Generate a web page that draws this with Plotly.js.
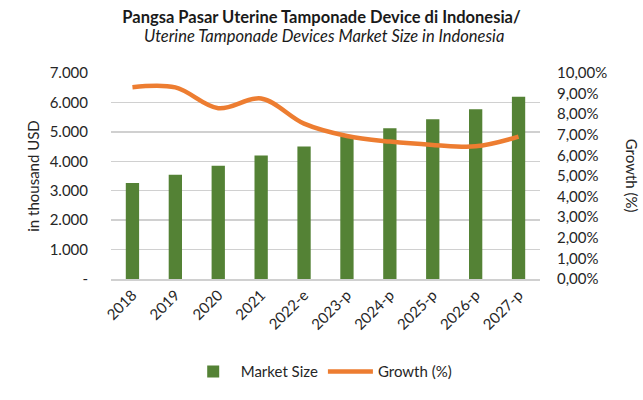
<!DOCTYPE html>
<html><head><meta charset="utf-8">
<script src="https://cdn.plot.ly/plotly-3.0.1.min.js"></script>
<style>html,body{margin:0;padding:0;background:#fff}#chart{width:643px;height:400px}</style>
</head><body><div id="chart"></div>
<script>
const years = ["2018","2019","2020","2021","2022-e","2023-p","2024-p","2025-p","2026-p","2027-p"];
const marketSize = [3260, 3540, 3850, 4200, 4500, 4840, 5120, 5430, 5770, 6190];
const growth = [9.31, 9.30, 8.29, 8.76, 7.54, 6.94, 6.67, 6.51, 6.44, 6.91];
const leftTickVals = [0,1000,2000,3000,4000,5000,6000,7000];
const leftTickText = ["-","1.000","2.000","3.000","4.000","5.000","6.000","7.000"];
const rightTickVals = [0,1,2,3,4,5,6,7,8,9,10];
const rightTickText = ["0,00%","1,00%","2,00%","3,00%","4,00%","5,00%","6,00%","7,00%","8,00%","9,00%","10,00%"];
const titleLine1 = "Pangsa Pasar Uterine Tamponade Device di Indonesia/";
const titleLine2 = "Uterine Tamponade Devices Market Size in Indonesia";

const fontFam = "Lato, 'Open Sans', sans-serif";
const data = [
  {type:"bar", x:years, y:marketSize, name:"Market Size", marker:{color:"#548235"}, width:0.31},
  {type:"scatter", mode:"lines", x:years, y:growth, name:"Growth (%)", yaxis:"y2",
   line:{color:"#ED7D31", width:4.5, shape:"spline", smoothing:1}}
];
const layout = {
  width:643, height:400,
  margin:{l:111, r:103, t:73, b:113},
  paper_bgcolor:"#fff", plot_bgcolor:"#fff",
  font:{family:fontFam, size:15, color:"#262626"},
  title:{text:"<b>" + titleLine1 + "</b>",
    x:0.5, xanchor:"center", y:0.957, yanchor:"middle",
    font:{family:fontFam, size:16.5, color:"#1a1a1a"}},
  xaxis:{type:"category", tickangle:-45, tickfont:{size:15}, showgrid:false, showline:true,
    linecolor:"#d0d0d0", linewidth:1.5, ticks:""},
  yaxis:{range:[0,7000], tickvals:leftTickVals, ticktext:leftTickText, showgrid:true,
    gridcolor:"#d0d0d0", gridwidth:1.5, zeroline:false, tickfont:{size:15}, ticks:"", ticklabelstandoff:22,
    title:{text:"in thousand USD", font:{size:15}, standoff:6}},
  yaxis2:{range:[0,10], overlaying:"y", side:"right", tickvals:rightTickVals, ticktext:rightTickText,
    showgrid:false, zeroline:false, tickfont:{size:15}, ticks:"", ticklabelstandoff:16},
  showlegend:true,
  legend:{orientation:"h", x:0.49, xanchor:"center", y:-0.45, yanchor:"middle", font:{size:15},
    traceorder:"normal", itemwidth:45},
  annotations:[
    {text:"<i>" + titleLine2 + "</i>", xref:"paper", yref:"paper", x:0.496, y:1.178, showarrow:false,
     xanchor:"center", yanchor:"middle", font:{family:fontFam, size:16.5, color:"#1a1a1a"}},
    {text:"Growth (%)", xref:"paper", yref:"paper", x:1.215, y:0.5, showarrow:false,
    textangle:90, font:{size:15, color:"#262626"}, xanchor:"center", yanchor:"middle"}]
};
Plotly.newPlot("chart", data, layout, {displayModeBar:false, staticPlot:true});
</script></body></html>
